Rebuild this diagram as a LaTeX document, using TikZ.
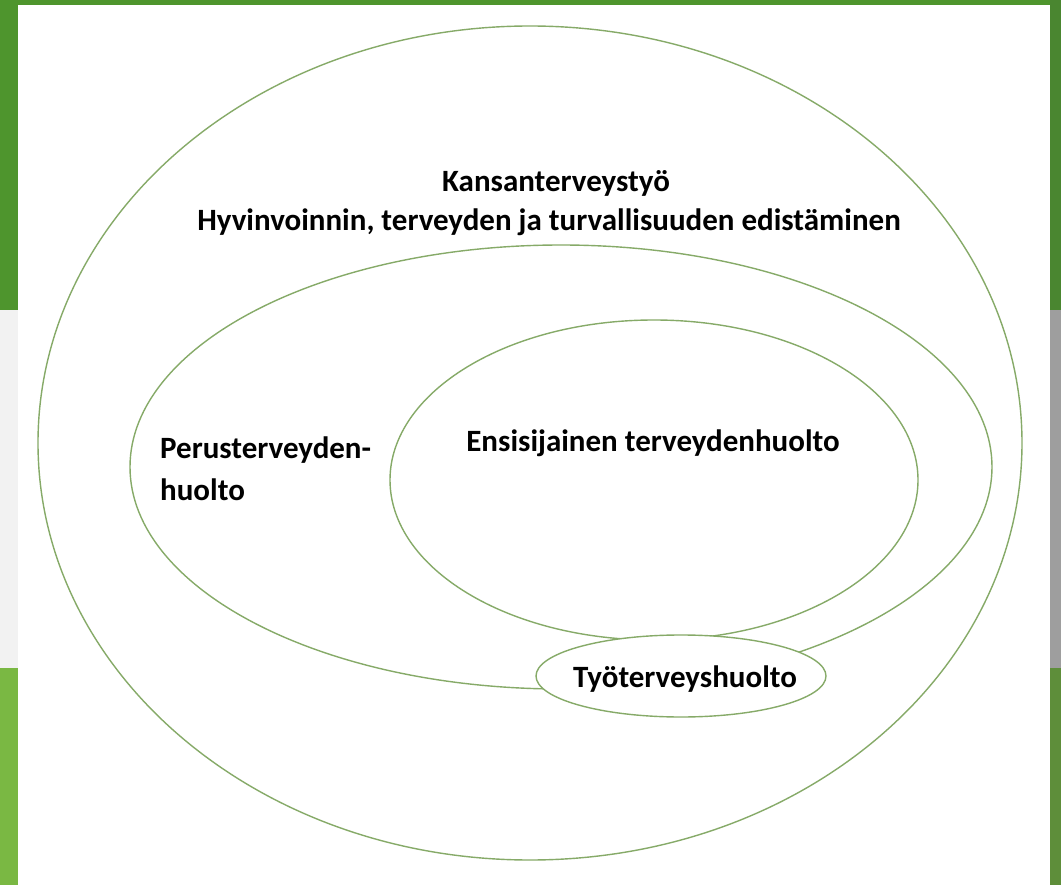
\documentclass[tikz,border=0pt]{standalone}
\usepackage{fontspec}
\setmainfont{Carlito}
\usetikzlibrary{shapes.geometric}
\definecolor{topgreen}{HTML}{4E952D}
\definecolor{rgreen}{HTML}{4A8630}
\definecolor{lgrey}{HTML}{F2F2F2}
\definecolor{rgrey}{HTML}{9E9E9E}
\definecolor{lowgreen}{HTML}{7AB843}
\definecolor{rlowgreen}{HTML}{5E8E3A}
\definecolor{ringgreen}{HTML}{86AA68}
\begin{document}
\begin{tikzpicture}[x=1pt,y=-1pt,
  ring/.style={draw=ringgreen, line width=1.4pt, ellipse, inner sep=0pt, outer sep=0pt},
  lbl/.style={font=\bfseries\fontsize{31}{37}\selectfont, text=black, inner sep=0pt}]
\useasboundingbox (0,0) rectangle (1061,885);
% background
\fill[topgreen] (0,0) rectangle (1061,885);
\fill[lgrey] (0,310) rectangle (18,668);
\fill[lowgreen] (0,668) rectangle (18,885);
\fill[rgreen] (1050,0) rectangle (1061,310);
\fill[rgrey] (1050,310) rectangle (1061,668);
\fill[rlowgreen] (1050,668) rectangle (1061,885);
\fill[white] (18,5) rectangle (1050,885);
% rings
\node[ring, minimum width=984pt, minimum height=834pt] (outer) at (530,443) {};
\node[ring, minimum width=862pt, minimum height=444pt] (middle) at (561,467) {};
\node[ring, minimum width=528pt, minimum height=320pt] (inner) at (654,480) {};
\node[ring, fill=white, minimum width=290pt, minimum height=82pt] (work) at (681,676) {};
% labels
\node[lbl, anchor=base] (kt) at (556,192) {Kansanterveystyö};
\node[lbl, anchor=base] (hv) at (549,231) {Hyvinvoinnin, terveyden ja turvallisuuden edistäminen};
\node[lbl, anchor=base west] (per1) at (160,458) {Perusterveyden-};
\node[lbl, anchor=base west] (per2) at (160,500) {huolto};
\node[lbl, anchor=base] (ens) at (653,451) {Ensisijainen terveydenhuolto};
\node[lbl, anchor=base] (tyo) at (685,687) {Työterveyshuolto};
\end{tikzpicture}
\end{document}
